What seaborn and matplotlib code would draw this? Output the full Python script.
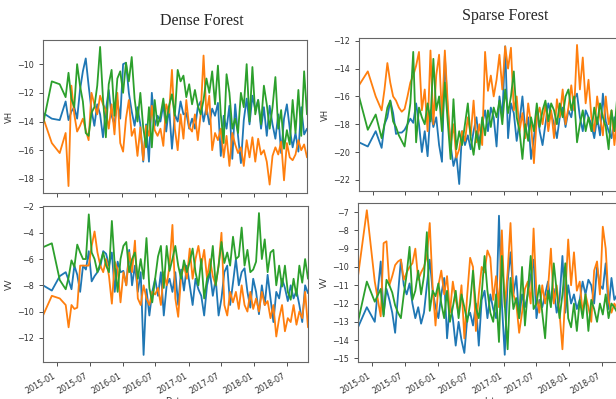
import numpy as np
import pandas as pd
import matplotlib
matplotlib.use("Agg")
import matplotlib.pyplot as plt
import matplotlib.dates as mdates
from matplotlib.ticker import MultipleLocator
import seaborn as sns

early_dates = ["2014-10-16", "2014-12-04", "2015-01-17"]
dates = pd.to_datetime(early_dates).append(pd.date_range("2015-02-19", periods=85, freq="16D"))

dense_vh_blue = [-13.4, -13.8, -13.9, -12.6, -13.9, -13.3, -13.0, -13.8, -11.8, -10.5,
 -9.6, -11.5, -13.2, -14.3, -12.8, -13.5, -15.1, -13.2, -11.8, -13.6,
 -14.2, -12.5, -13.8, -10.0, -9.9, -12.0, -13.3, -14.3, -13.0, -14.2,
 -16.8, -14.2, -16.8, -12.0, -14.3, -13.6, -14.0, -12.8, -14.7, -13.0,
 -15.9, -13.5, -14.0, -12.6, -13.5, -13.4, -14.5, -13.8, -14.5, -13.0,
 -12.6, -14.0, -13.0, -14.2, -13.1, -13.6, -12.7, -16.4, -13.6, -14.5,
 -12.9, -16.6, -12.8, -15.0, -16.9, -13.9, -12.4, -14.2, -12.2, -13.2,
 -12.5, -14.5, -13.0, -15.0, -12.9, -14.2, -15.2, -13.5, -16.2, -13.8,
 -12.8, -14.5, -15.8, -14.8, -16.1, -13.0, -14.9, -14.5]
dense_vh_orange = [-13.7, -15.5, -16.2, -14.8, -18.5, -11.5, -13.5, -14.7, -14.3, -13.8,
 -14.6, -15.3, -12.0, -12.8, -13.5, -12.2, -12.8, -13.2, -14.5, -12.8,
 -14.9, -12.0, -15.5, -16.1, -13.8, -12.5, -15.0, -14.5, -16.4, -14.4,
 -16.7, -14.3, -15.0, -12.9, -14.6, -15.0, -14.5, -15.7, -12.8, -13.4,
 -10.4, -14.5, -16.0, -13.5, -15.2, -12.5, -14.4, -14.7, -13.5, -15.3,
 -13.5, -9.4, -13.5, -12.2, -16.0, -14.8, -15.3, -14.5, -16.5, -15.0,
 -17.1, -14.8, -15.6, -16.2, -15.8, -17.1, -15.3, -16.5, -15.1, -16.8,
 -15.2, -16.3, -16.0, -16.8, -18.4, -16.4, -15.8, -16.3, -15.4, -18.1,
 -15.5, -16.5, -16.7, -16.3, -15.3, -16.0, -15.6, -16.5]
dense_vh_green = [-14.2, -11.2, -11.4, -12.3, -10.6, -12.4, -13.0, -10.0, -11.5, -12.6,
 -14.8, -15.0, -13.4, -13.0, -11.5, -8.8, -12.4, -15.1, -11.4, -10.4,
 -13.6, -11.0, -10.5, -12.0, -9.9, -11.2, -9.5, -12.4, -14.0, -12.0,
 -14.4, -15.8, -13.0, -15.8, -12.5, -14.3, -13.6, -12.4, -14.1, -12.9,
 -12.1, -13.6, -10.4, -11.2, -10.8, -12.3, -11.4, -12.8, -11.8, -12.9,
 -13.5, -12.5, -11.0, -12.0, -10.5, -12.8, -10.1, -13.5, -15.5, -10.7,
 -12.0, -14.5, -13.8, -14.8, -12.0, -13.0, -10.0, -14.0, -10.2, -13.5,
 -12.5, -14.2, -11.5, -12.8, -14.5, -13.0, -10.9, -14.5, -13.2, -15.9,
 -14.6, -15.6, -12.5, -14.8, -11.8, -15.0, -10.5, -13.5]

dense_vv_blue = [-8.0, -8.4, -7.3, -7.0, -7.6, -8.3, -6.5, -7.2, -8.5, -6.5,
 -6.8, -5.4, -7.7, -7.3, -7.0, -6.6, -5.4, -5.6, -6.5, -5.5,
 -8.5, -6.2, -7.0, -6.9, -8.0, -5.3, -8.0, -6.5, -8.5, -7.0,
 -13.3, -8.3, -10.3, -8.5, -7.5, -8.8, -7.0, -10.3, -8.0, -7.5,
 -8.5, -7.0, -9.5, -6.8, -8.4, -6.5, -8.0, -9.5, -7.5, -8.3,
 -8.8, -10.3, -8.0, -7.0, -8.8, -7.5, -10.3, -9.0, -7.0, -6.5,
 -9.5, -7.8, -6.0, -8.0, -7.0, -6.7, -8.5, -9.7, -7.5, -8.5,
 -10.2, -8.0, -9.5, -7.2, -9.0, -10.8, -8.5, -9.0, -7.5, -8.2,
 -9.2, -8.0, -9.0, -8.4, -9.5, -10.8, -8.0, -8.6]
dense_vv_orange = [-10.3, -8.8, -9.0, -9.5, -11.2, -9.5, -9.8, -9.7, -6.5, -6.5,
 -6.5, -6.5, -5.0, -3.9, -5.5, -6.5, -7.0, -6.0, -7.3, -9.4,
 -6.2, -6.8, -9.3, -7.0, -8.0, -5.5, -7.0, -4.6, -9.0, -9.5,
 -8.0, -9.0, -9.5, -8.5, -8.7, -8.2, -9.5, -7.0, -8.0, -6.5,
 -3.4, -9.0, -10.4, -7.3, -6.5, -7.5, -5.2, -7.5, -6.0, -5.0,
 -6.5, -5.3, -7.5, -6.0, -7.3, -8.0, -6.5, -4.0, -9.5, -10.3,
 -8.5, -9.3, -8.5, -9.8, -8.0, -9.5, -10.0, -8.5, -9.8, -9.0,
 -10.0, -8.5, -9.5, -9.2, -10.5, -9.5, -11.9, -10.5, -9.5, -11.5,
 -10.5, -10.8, -9.5, -11.0, -10.0, -10.5, -8.5, -11.2]
dense_vv_green = [-5.1, -4.8, -7.6, -8.3, -7.4, -6.1, -6.6, -4.9, -5.5, -6.0,
 -6.0, -2.6, -5.5, -6.0, -7.0, -6.3, -5.5, -6.5, -7.0, -3.1,
 -6.5, -8.5, -6.0, -5.0, -4.7, -7.0, -6.0, -5.5, -7.5, -6.0,
 -7.5, -4.4, -8.2, -9.3, -7.5, -5.8, -5.0, -8.2, -5.0, -6.9,
 -6.0, -5.0, -6.5, -7.5, -6.1, -7.0, -6.2, -5.2, -7.0, -8.0,
 -6.0, -9.0, -7.5, -7.0, -5.0, -8.0, -6.5, -4.7, -6.3, -5.5,
 -6.5, -4.3, -6.0, -5.8, -3.6, -6.5, -5.3, -7.0, -6.8, -6.2,
 -2.5, -6.0, -4.5, -7.0, -5.5, -5.3, -8.0, -6.5, -8.1, -6.5,
 -8.5, -9.1, -7.5, -8.8, -6.5, -7.8, -6.0, -7.5]

sparse_vh_blue = [-19.3, -19.6, -18.5, -19.7, -18.0, -17.5, -16.3, -17.2, -18.7, -18.6,
 -18.6, -18.4, -18.0, -17.6, -17.9, -16.5, -18.0, -20.0, -18.5, -20.3,
 -17.0, -18.2, -17.5, -19.5, -20.7, -13.1, -17.0, -19.5, -21.0, -20.2,
 -22.3, -18.5, -19.5, -18.8, -19.8, -18.5, -17.5, -19.5, -18.0, -17.0,
 -18.5, -16.8, -17.5, -19.6, -16.0, -17.5, -12.4, -19.0, -16.5, -17.2,
 -19.2, -17.8, -16.0, -18.5, -17.5, -20.5, -19.0, -17.0, -18.5, -19.5,
 -18.0, -16.5, -17.2, -18.0, -19.0, -17.5, -16.8, -18.2, -17.0, -17.5,
 -16.2, -15.8, -17.5, -18.5, -17.0, -17.5, -18.0, -19.0, -17.5, -18.8,
 -15.8, -17.8, -18.5, -19.0, -17.5, -18.8, -19.0, -16.5]
sparse_vh_orange = [-15.2, -14.2, -16.0, -17.0, -15.5, -13.6, -15.0, -16.0, -16.3, -16.8,
 -17.1, -16.9, -16.0, -15.0, -14.5, -13.8, -12.8, -17.0, -15.5, -18.5,
 -12.7, -18.0, -14.5, -13.0, -17.5, -12.7, -16.5, -19.5, -18.0, -20.4,
 -19.8, -18.5, -19.2, -17.5, -18.8, -16.3, -19.3, -18.0, -19.5, -12.8,
 -15.6, -14.5, -16.0, -14.8, -13.0, -15.5, -12.4, -14.0, -12.5, -17.0,
 -16.0, -18.5, -17.2, -19.0, -16.5, -18.0, -20.8, -17.5, -16.8, -18.0,
 -16.5, -18.5, -17.0, -19.0, -16.2, -17.5, -15.5, -18.0, -16.8, -15.2,
 -17.0, -12.3, -15.5, -13.2, -16.5, -14.8, -17.5, -18.5, -16.0, -17.5,
 -18.8, -16.0, -18.0, -17.0, -19.5, -17.5, -16.5, -18.0]
sparse_vh_green = [-16.0, -18.4, -17.3, -19.0, -18.0, -16.8, -16.3, -17.8, -18.2, -18.8,
 -19.2, -19.6, -18.0, -16.5, -12.8, -19.3, -16.8, -17.5, -18.0, -16.5,
 -17.8, -13.3, -17.0, -16.0, -18.5, -15.0, -17.8, -20.5, -16.2, -19.8,
 -18.5, -19.5, -18.0, -16.5, -19.0, -20.2, -18.5, -19.8, -17.5, -18.8,
 -17.0, -18.2, -16.8, -17.5, -16.3, -18.0, -15.5, -17.2, -16.0, -14.2,
 -17.5, -18.5, -20.5, -18.0, -19.2, -17.5, -18.5, -16.5, -18.2, -17.0,
 -16.3, -17.8, -16.5, -17.0, -18.0, -16.5, -17.5, -16.0, -15.5, -17.0,
 -16.0, -19.3, -18.0, -17.0, -18.5, -17.5, -18.5, -16.8, -18.0, -16.5,
 -17.5, -18.2, -19.8, -17.0, -18.5, -16.0, -20.5, -17.0]

sparse_vv_blue = [-13.3, -12.2, -13.0, -9.7, -12.6, -11.2, -11.8, -12.5, -13.6, -11.5,
 -9.6, -11.0, -11.5, -10.9, -12.0, -12.8, -12.2, -13.1, -12.5, -11.0,
 -9.6, -11.3, -12.2, -12.8, -11.5, -10.6, -13.9, -12.0, -12.8, -14.3,
 -13.0, -14.0, -14.7, -12.8, -12.5, -13.2, -12.0, -14.3, -11.8, -11.3,
 -12.8, -11.5, -12.3, -12.8, -7.2, -12.0, -14.8, -10.8, -9.2, -11.5,
 -10.5, -12.8, -11.5, -12.2, -11.5, -10.5, -9.6, -12.8, -11.8, -12.2,
 -11.5, -10.8, -12.0, -11.2, -12.5, -11.8, -9.4, -12.5, -11.0, -12.0,
 -11.5, -12.3, -11.8, -10.8, -11.5, -10.7, -11.0, -12.0, -10.0, -11.0,
 -11.2, -9.8, -12.3, -10.6, -11.8, -11.5, -12.0, -11.3]
sparse_vv_orange = [-10.5, -6.9, -10.8, -12.7, -8.7, -8.6, -11.0, -10.5, -9.9, -9.7,
 -9.6, -10.7, -10.3, -10.0, -9.8, -9.0, -10.7, -10.3, -10.0, -9.4,
 -7.6, -11.1, -13.2, -11.0, -10.2, -11.5, -10.5, -12.5, -10.8, -11.8,
 -12.5, -11.0, -13.9, -11.5, -9.5, -10.0, -13.5, -11.5, -10.0, -10.3,
 -9.1, -9.5, -11.8, -10.5, -12.2, -8.0, -12.2, -10.3, -7.6, -11.5,
 -12.0, -13.6, -12.5, -11.2, -10.8, -12.0, -7.9, -11.5, -12.5, -11.0,
 -12.0, -11.2, -9.0, -12.0, -11.0, -12.5, -14.5, -11.5, -8.5, -11.0,
 -9.2, -11.3, -10.8, -12.5, -11.5, -12.2, -13.0, -10.2, -9.7, -11.5,
 -7.8, -9.0, -11.8, -12.5, -12.0, -12.3, -9.8, -11.0]
sparse_vv_green = [-13.0, -10.8, -11.9, -11.2, -12.7, -10.7, -11.0, -11.4, -12.1, -12.5,
 -12.8, -11.5, -10.4, -8.9, -11.8, -11.3, -10.2, -11.5, -10.5, -8.1,
 -12.4, -11.3, -11.6, -10.9, -12.0, -12.8, -11.3, -13.0, -12.2, -11.3,
 -12.8, -11.5, -12.2, -13.0, -12.0, -10.2, -12.2, -12.8, -11.5, -9.4,
 -11.3, -12.5, -13.0, -11.5, -14.1, -9.4, -12.0, -14.5, -10.6, -12.3,
 -11.7, -12.8, -10.0, -13.2, -11.3, -9.4, -12.3, -12.0, -11.0, -12.5,
 -13.9, -11.3, -12.2, -9.8, -11.3, -12.8, -11.5, -9.8, -12.8, -13.3,
 -12.0, -13.5, -11.8, -12.8, -11.5, -13.5, -11.8, -12.3, -13.0, -12.0,
 -12.6, -11.5, -12.8, -12.0, -12.2, -12.5, -11.5, -9.1]

titles = ["Dense Forest", "Sparse Forest"]
ylabels = ["VH", "VV"]
xlabels = ["Date", "date"]
colors = ["#1f77b4", "#ff7f0e", "#2ca02c"]

sns.set_style("white")
plt.rcParams["font.family"] = ["DejaVu Sans"]

W, H = 616, 399
fig = plt.figure(figsize=(W / 100, H / 100), dpi=100)

def box(l, t, r, b):
    return [l / W, 1 - b / H, (r - l) / W, (b - t) / H]

panels = [
    (box(43, 40, 307, 193), [dense_vh_blue, dense_vh_orange, dense_vh_green], 0, 0, 2),
    (box(43, 206, 308, 362), [dense_vv_blue, dense_vv_orange, dense_vv_green], 1, 0, 2),
    (box(359, 38, 623, 191), [sparse_vh_blue, sparse_vh_orange, sparse_vh_green], 0, 1, 2),
    (box(358, 203, 623, 362), [sparse_vv_blue, sparse_vv_orange, sparse_vv_green], 1, 1, 1),
]

for rect, series, row, col, step in panels:
    ax = fig.add_axes(rect)
    for vals, c in zip(series, colors):
        sns.lineplot(x=dates, y=vals, ax=ax, color=c, linewidth=1.3)
    ax.set_xlim(dates[0], dates[-1])
    ax.yaxis.set_major_locator(MultipleLocator(step))
    ax.xaxis.set_major_locator(mdates.MonthLocator(bymonth=[1, 7]))
    ax.xaxis.set_major_formatter(mdates.DateFormatter("%Y-%m"))
    ax.tick_params(axis="both", labelsize=5.8, colors="#333333", length=3, width=0.6,
                   direction="out", bottom=True, left=True)
    for s in ax.spines.values():
        s.set_color("#666666")
        s.set_linewidth(0.8)
    ax.set_ylabel(ylabels[row], fontsize=6, color="#333333", labelpad=2)
    if row == 0:
        ax.set_xticklabels([])
        ax.set_xlabel("")
    else:
        for lab in ax.get_xticklabels():
            lab.set_rotation(30)
            lab.set_ha("right")
        ax.set_xlabel(xlabels[col], fontsize=6, color="#333333", labelpad=1)

fig.text(202 / W, 1 - 21 / H, titles[0], ha="center", va="center",
         fontsize=11.5, family="Liberation Serif")
fig.text(505 / W, 1 - 16 / H, titles[1], ha="center", va="center",
         fontsize=11.5, family="Liberation Serif")

fig.savefig("out.png", dpi=100)
